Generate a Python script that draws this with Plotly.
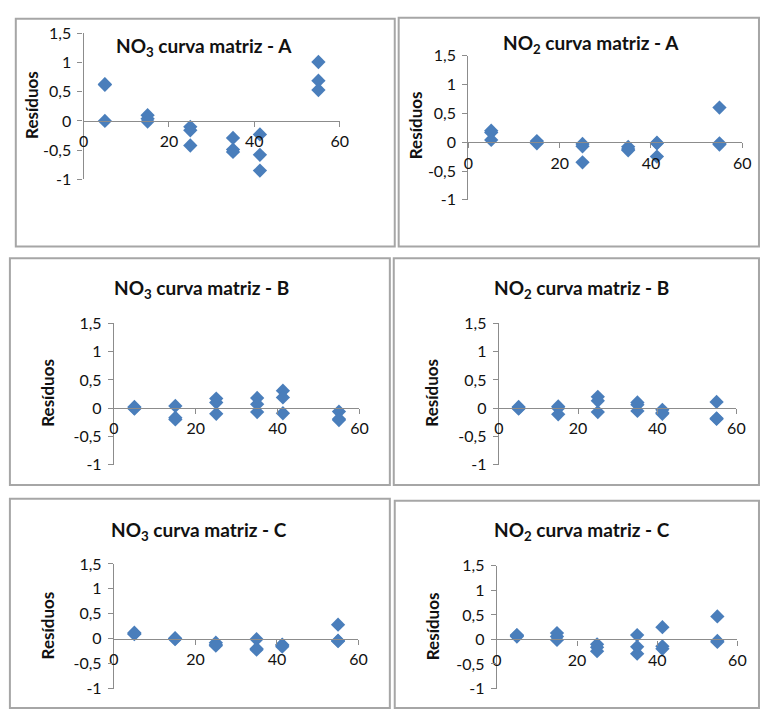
import plotly.graph_objects as go

# Concentration levels (x) shared by all calibration curves
conc = [5, 15, 25, 35, 41.3, 55]

# Residuals: three replicates per concentration level
res_no3_a = [[0.63, 0.62, 0.00], [0.10, 0.04, -0.01], [-0.10, -0.16, -0.42],
             [-0.29, -0.49, -0.53], [-0.23, -0.58, -0.85], [1.01, 0.69, 0.53]]
res_no2_a = [[0.20, 0.17, 0.04], [0.02, 0.00, -0.02], [-0.03, -0.07, -0.35],
             [-0.08, -0.12, -0.14], [-0.02, -0.01, -0.25], [0.60, -0.02, -0.04]]
res_no3_b = [[0.02, 0.00, -0.01], [0.04, -0.17, -0.20], [0.17, 0.10, -0.10],
             [0.18, 0.07, -0.07], [0.31, 0.19, -0.09], [-0.06, -0.19, -0.21]]
res_no2_b = [[0.02, 0.00, -0.01], [0.03, 0.00, -0.11], [0.20, 0.13, -0.07],
             [0.10, 0.06, -0.05], [-0.03, -0.08, -0.10], [0.11, -0.18, -0.19]]
res_no3_c = [[0.12, 0.09, 0.10], [0.01, 0.00, -0.01], [-0.08, -0.12, -0.14],
             [-0.01, -0.20, -0.22], [-0.12, -0.13, -0.16], [0.28, -0.04, -0.05]]
res_no2_c = [[0.09, 0.06, 0.08], [0.13, 0.06, -0.01], [-0.10, -0.16, -0.24],
             [0.09, -0.15, -0.29], [0.25, -0.14, -0.19], [0.47, -0.03, -0.05]]

titles = ["NO<sub>3</sub> curva matriz - A", "NO<sub>2</sub> curva matriz - A",
          "NO<sub>3</sub> curva matriz - B", "NO<sub>2</sub> curva matriz - B",
          "NO<sub>3</sub> curva matriz - C", "NO<sub>2</sub> curva matriz - C"]
residuals = [res_no3_a, res_no2_a, res_no3_b, res_no2_b, res_no3_c, res_no2_c]

x_ticks = [0, 20, 40, 60]
y_ticks = [-1, -0.5, 0, 0.5, 1, 1.5]
y_tick_text = ["-1", "-0,5", "0", "0,5", "1", "1,5"]
y_title = "Resíduos"

# Page geometry (pixels)
W, H = 767, 716
# chart frame: left, top, right, bottom
frames = [(11, 9, 397, 243), (401, 8, 768, 243),
          (5, 255, 392, 488), (396, 255, 768, 488),
          (5, 502, 392, 717), (397, 504, 768, 717)]
# plot area: x of value 0, x of value 60, y of 1.5, y of -1
plots = [(80, 341, 24, 174), (472, 751, 47, 195),
         (111, 361, 322, 467), (503, 745, 322, 467),
         (111, 360, 569, 697), (501, 746, 571, 697)]
# title centres and y-axis title centres
title_pos = [(203, 38), (597, 35), (200, 287), (587, 287), (198, 535), (588, 535)]
ytitle_pos = [(27, 98), (418, 118), (43, 393), (435, 393), (43, 632), (435, 633)]

FONT = "Lato"
TEXT = "#111111"
BLUE = "#4a7ebb"
AXIS = "#8c8c8c"
FRAME = "#a6a6a6"


def px(x):
    return x / W


def py(y):
    return 1 - y / H


fig = go.Figure()
layout = dict(width=W, height=H, margin=dict(l=0, r=0, t=0, b=0),
              paper_bgcolor="white", plot_bgcolor="rgba(0,0,0,0)",
              showlegend=False, shapes=[], annotations=[],
              font=dict(family=FONT, color=TEXT))

for i in range(6):
    n = "" if i == 0 else str(i + 1)
    xs, ys = [], []
    for c, reps in zip(conc, residuals[i]):
        for r in reps:
            xs.append(c)
            ys.append(r)
    fig.add_trace(go.Scatter(x=xs, y=ys, mode="markers", xaxis="x" + n, yaxis="y" + n,
                             cliponaxis=False,
                             marker=dict(symbol="diamond", size=11, color=BLUE,
                                         line=dict(width=0))))

    x0, x1, yt, yb = plots[i]
    zero_y = yb - (yb - yt) * (0 - (-1)) / 2.5
    layout["xaxis" + n] = dict(
        domain=[px(x0), px(x1)], range=[0, 60], anchor="free", position=py(zero_y),
        showline=True, linecolor=AXIS, linewidth=1.3, ticks="outside", ticklen=5,
        tickcolor=AXIS, tickwidth=1.3, tickvals=x_ticks, showgrid=False, zeroline=False,
        ticklabelstandoff=1, tickfont=dict(size=16, family=FONT, color=TEXT))
    layout["yaxis" + n] = dict(
        domain=[py(yb), py(yt)], range=[-1, 1.5], anchor="x" + n,
        showline=True, linecolor=AXIS, linewidth=1.3, ticks="outside", ticklen=5,
        tickcolor=AXIS, tickwidth=1.3, tickvals=y_ticks, ticktext=y_tick_text,
        showgrid=False, zeroline=False, ticklabelstandoff=3,
        tickfont=dict(size=16, family=FONT, color=TEXT))

    fl, ft, fr, fb = frames[i]
    layout["shapes"].append(dict(type="rect", xref="paper", yref="paper",
                                 x0=px(fl), x1=px(fr), y0=py(fb), y1=py(ft),
                                 line=dict(color=FRAME, width=2), layer="below"))

    tx, ty = title_pos[i]
    layout["annotations"].append(dict(text="<b>" + titles[i] + "</b>", xref="paper", yref="paper",
                                      x=px(tx), y=py(ty), showarrow=False,
                                      xanchor="center", yanchor="middle",
                                      font=dict(size=19, family=FONT, color=TEXT)))
    ax, ay = ytitle_pos[i]
    layout["annotations"].append(dict(text="<b>" + y_title + "</b>", xref="paper", yref="paper",
                                      x=px(ax), y=py(ay), showarrow=False, textangle=-90,
                                      xanchor="center", yanchor="middle",
                                      font=dict(size=17, family=FONT, color=TEXT)))

fig.update_layout(**layout)
fig.write_html("out.html")
